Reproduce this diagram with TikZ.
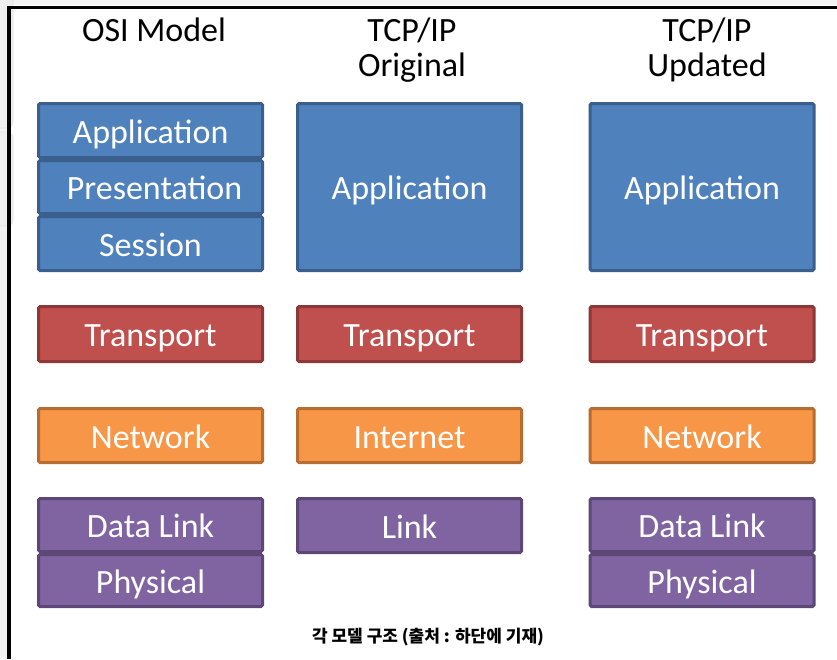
\documentclass[tikz,border=0pt]{standalone}
\usepackage{fontspec}
\setmainfont{Carlito}
\newfontfamily\krfont{Noto Sans CJK KR}
\definecolor{bluefill}{HTML}{4F81BD}
\definecolor{blueline}{HTML}{3A5F8C}
\definecolor{redfill}{HTML}{C0504D}
\definecolor{redline}{HTML}{8C3836}
\definecolor{orangefill}{HTML}{F79646}
\definecolor{orangeline}{HTML}{B66D31}
\definecolor{purplefill}{HTML}{8064A2}
\definecolor{purpleline}{HTML}{5C4776}
\definecolor{sidegray}{HTML}{F3F3F3}
\definecolor{blobgray}{HTML}{EFEFEF}
\begin{document}
\begin{tikzpicture}[x=1pt,y=-1pt,
  layer/.style={rectangle, rounded corners=1.5pt, line width=3pt, minimum width=224pt,
    text=white, font=\fontsize{34}{38}\selectfont, inner sep=0pt, outer sep=0pt,
    text height=26pt, text depth=1pt},
  bluelayer/.style={layer, fill=bluefill, draw=blueline},
  redlayer/.style={layer, fill=redfill, draw=redline, minimum height=55pt},
  orangelayer/.style={layer, fill=orangefill, draw=orangeline, minimum height=54pt},
  purplelayer/.style={layer, fill=purplefill, draw=purpleline},
  title/.style={font=\fontsize{34}{35}\selectfont, align=center, text=black, inner sep=0pt}
]
\useasboundingbox (0,0) rectangle (837,659);
\fill[white] (0,0) rectangle (837,659);
% screenshot frame
\fill[sidegray] (0,0) rectangle (837,5);
\fill[sidegray] (0,0) rectangle (7,659);
\fill[blobgray, draw=black!12, line width=0.6pt, rounded corners=6pt] (-10,-10) rectangle (13,128);
\fill[blobgray, draw=black!12, line width=0.6pt, rounded corners=6pt] (-10,132) rectangle (13,226);
\fill[black] (9,5.5) rectangle (837,8.5);
\fill[black] (7,6) rectangle (11,659);

% titles
\node[title] (t1) at (154,30) {OSI Model};
\node[title] (t2) at (412,50) {TCP/IP\\Original};
\node[title] (t3) at (707,50) {TCP/IP\\Updated};

% OSI column
\node[bluelayer, minimum height=54pt] (osiapp) at (150.5,130.5) {Application};
\node[bluelayer, minimum height=53pt] (osipres) at (150.5,187) {\hspace{8pt}Presentation};
\node[bluelayer, minimum height=54pt] (osisess) at (150.5,243.5) {Session};
\node[redlayer] (ositrans) at (150.5,334) {Transport};
\node[orangelayer] (osinet) at (150.5,435.5) {Network};
\node[purplelayer, minimum height=53pt] (osidl) at (150.5,525) {Data Link};
\node[purplelayer, minimum height=52pt] (osiphy) at (150.5,580.5) {Physical};

% TCP/IP original
\node[bluelayer, minimum height=167pt] (origapp) at (409.5,187) {Application};
\node[redlayer] (origtrans) at (409.5,334) {Transport};
\node[orangelayer] (originet) at (409.5,435.5) {Internet};
\node[purplelayer, minimum height=54pt] (origlink) at (409.5,525.5) {Link};

% TCP/IP updated
\node[bluelayer, minimum height=167pt] (updapp) at (702,187) {Application};
\node[redlayer] (updtrans) at (702,334) {Transport};
\node[orangelayer] (updnet) at (702,435.5) {Network};
\node[purplelayer, minimum height=53pt] (upddl) at (702,525) {Data Link};
\node[purplelayer, minimum height=52pt] (updphy) at (702,580.5) {Physical};

% caption
\node[font=\krfont\bfseries\fontsize{17}{20}\selectfont, inner sep=0pt] (cap) at (428,637) {각 모델 구조 (출처 : 하단에 기재)};
\end{tikzpicture}
\end{document}
